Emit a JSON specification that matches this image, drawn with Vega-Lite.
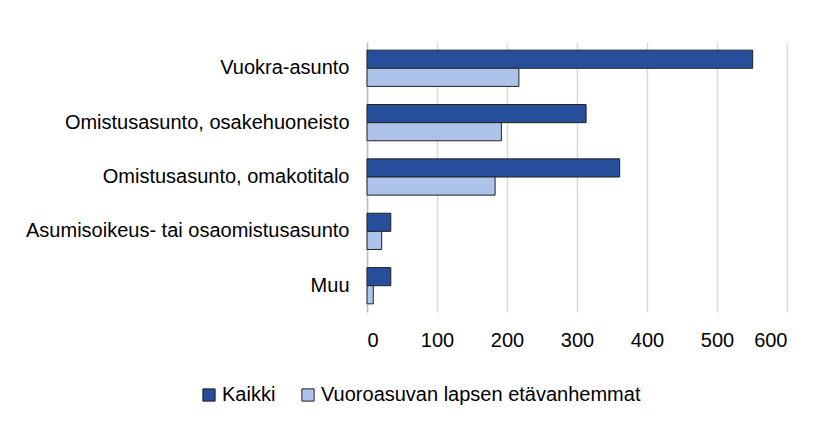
{
  "$schema": "https://vega.github.io/schema/vega-lite/v6.json",
  "width": 420,
  "height": 270,
  "autosize": "none",
  "padding": {"left": 367, "top": 42, "right": 34, "bottom": 109},
  "background": "white",
  "config": {
    "font": "Liberation Sans",
    "view": {"stroke": null}
  },
  "data": {
    "values": [
      {"tyyppi": "Vuokra-asunto", "sarja": "Kaikki", "arvo": 551},
      {"tyyppi": "Vuokra-asunto", "sarja": "Vuoroasuvan lapsen etävanhemmat", "arvo": 217},
      {"tyyppi": "Omistusasunto, osakehuoneisto", "sarja": "Kaikki", "arvo": 313},
      {"tyyppi": "Omistusasunto, osakehuoneisto", "sarja": "Vuoroasuvan lapsen etävanhemmat", "arvo": 192},
      {"tyyppi": "Omistusasunto, omakotitalo", "sarja": "Kaikki", "arvo": 361},
      {"tyyppi": "Omistusasunto, omakotitalo", "sarja": "Vuoroasuvan lapsen etävanhemmat", "arvo": 183},
      {"tyyppi": "Asumisoikeus- tai osaomistusasunto", "sarja": "Kaikki", "arvo": 34},
      {"tyyppi": "Asumisoikeus- tai osaomistusasunto", "sarja": "Vuoroasuvan lapsen etävanhemmat", "arvo": 21},
      {"tyyppi": "Muu", "sarja": "Kaikki", "arvo": 34},
      {"tyyppi": "Muu", "sarja": "Vuoroasuvan lapsen etävanhemmat", "arvo": 9}
    ]
  },
  "mark": {"type": "bar", "stroke": "#222222", "strokeWidth": 1},
  "encoding": {
    "y": {
      "field": "tyyppi",
      "type": "nominal",
      "sort": ["Vuokra-asunto", "Omistusasunto, osakehuoneisto", "Omistusasunto, omakotitalo", "Asumisoikeus- tai osaomistusasunto", "Muu"],
      "scale": {"paddingInner": 0.333, "paddingOuter": 0.15},
      "axis": {
        "title": null,
        "ticks": false,
        "domain": true,
        "domainColor": "#BFBFBF",
        "domainWidth": 1.5,
        "labelFontSize": 20,
        "labelColor": "#000000",
        "labelPadding": 18,
        "labelLimit": 400
      }
    },
    "yOffset": {
      "field": "sarja",
      "type": "nominal",
      "sort": ["Kaikki", "Vuoroasuvan lapsen etävanhemmat"]
    },
    "x": {
      "field": "arvo",
      "type": "quantitative",
      "scale": {"domain": [0, 600], "nice": false},
      "axis": {
        "title": null,
        "values": [0, 100, 200, 300, 400, 500, 600],
        "ticks": false,
        "domain": false,
        "grid": true,
        "gridColor": "#D9D9D9",
        "gridWidth": 1.5,
        "labelFontSize": 20,
        "labelColor": "#000000",
        "labelPadding": 18
      }
    },
    "color": {
      "field": "sarja",
      "type": "nominal",
      "scale": {
        "domain": ["Kaikki", "Vuoroasuvan lapsen etävanhemmat"],
        "range": ["#264E9A", "#ADC3EA"]
      },
      "legend": {
        "title": null,
        "orient": "none",
        "legendX": -168,
        "legendY": 343,
        "direction": "horizontal",
        "symbolType": "square",
        "symbolSize": 150,
        "symbolStrokeColor": "#222222",
        "symbolStrokeWidth": 1,
        "labelFontSize": 20,
        "labelColor": "#000000",
        "labelOffset": 3,
        "columnPadding": 22,
        "labelLimit": 500
      }
    }
  }
}
